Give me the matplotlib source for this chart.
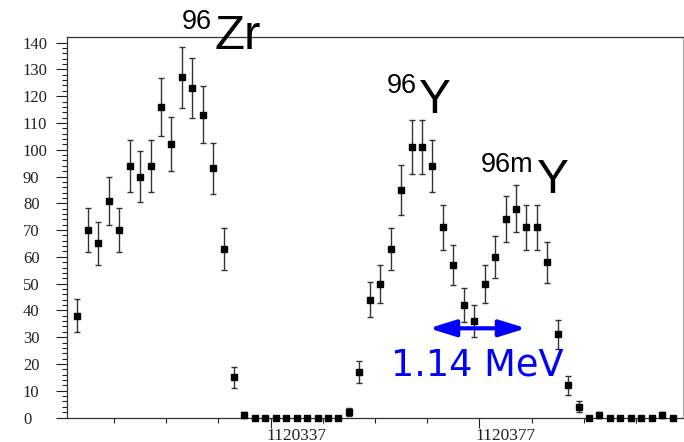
# encoding:utf-8
# 计数谱: 96Zr / 96Y / 96mY 峰

import numpy as np
import matplotlib.pyplot as plt
import matplotlib.transforms as mtransforms

# 每个 bin 的计数 (bin 宽 2, 从 1120299 开始)
bin_start = 1120299
bin_width = 2
counts = np.array([38, 70, 65, 81, 70, 94, 90, 94, 116, 102, 127, 123, 113, 93, 63, 15, 1,
                   0, 0, 0, 0, 0, 0, 0, 0, 0,
                   2, 17,
                   44, 50, 63, 85, 101, 101, 94, 71, 57, 42, 36, 50, 60, 74, 78, 71, 71, 58,
                   31, 12, 4, 0, 1, 0, 0, 0, 0, 0, 1, 0])
x = bin_start + bin_width * (np.arange(len(counts)) + 0.5)
err = np.sqrt(counts)  # 泊松误差

x_labels = [1120337, 1120377]
x_minor = np.arange(1120307, 1120408, 10)
y_major = np.arange(0, 141, 10)
y_minor = np.arange(0, 142, 2)

W, H = 684, 442
plt.rcParams['font.family'] = ['Liberation Serif', 'DejaVu Serif']

fig = plt.figure(figsize=(W / 100, H / 100), dpi=100)
ax = fig.add_axes([67 / W, 1 - 417.5 / H, 616 / W, 380.2 / H])

nz = counts > 0
ax.errorbar(x[nz], counts[nz], yerr=err[nz], fmt='none', ecolor='#333333',
            elinewidth=1, capsize=2.2, capthick=1, clip_on=False)
ax.plot(x, counts, 's', color='black', ms=4, clip_on=False, zorder=3)

ax.set_xlim(1120298, 1120416)
ax.set_ylim(0, 142)

ax.set_xticks(x_labels)
ax.set_xticklabels([str(v) for v in x_labels])
ax.set_xticks(x_minor, minor=True)
ax.set_yticks(y_major)
ax.set_yticks(y_minor, minor=True)

ax.tick_params(axis='x', which='major', direction='out', length=7.2, width=0.8,
               pad=0, labelsize=12.5, colors='#222222')
ax.tick_params(axis='x', which='minor', direction='out', length=3.6, width=0.8,
               colors='#222222')
ax.tick_params(axis='y', which='major', direction='out', length=7.7, width=0.8,
               pad=24, labelsize=12, colors='#222222')
ax.tick_params(axis='y', which='minor', direction='out', length=3.6, width=0.8,
               colors='#222222')

for lab in ax.get_yticklabels():
    lab.set_horizontalalignment('left')
shift = mtransforms.ScaledTranslation(-4.3 / 100, 0, fig.dpi_scale_trans)
for lab in ax.get_xticklabels():
    lab.set_horizontalalignment('left')
    lab.set_transform(lab.get_transform() + shift)

for s in ['left', 'bottom', 'top']:
    ax.spines[s].set_color('#333333')
    ax.spines[s].set_linewidth(0.9)
ax.spines['right'].set_color('#aaaaaa')
ax.spines['right'].set_linewidth(0.8)

# 峰的标注 (像素位置)
labels = [("96", 182, 29.3, 19.5), ("Zr", 214, 49.3, 35.5),
          ("96", 387, 93.3, 19.5), ("Y", 419, 112.7, 34.5),
          ("96m", 480.5, 171.7, 19.5), ("Y", 536.5, 192.7, 34.5)]
for txt, px, py, fs in labels:
    ax.annotate(txt, xy=(px, H - py), xycoords='figure pixels', ha='left',
                va='baseline', fontsize=fs, family='Liberation Sans', color='black')

ax.annotate('', xy=(526, H - 328.3), xytext=(429, H - 328.3), xycoords='figure pixels',
            arrowprops=dict(arrowstyle='<|-|>,head_length=1.6,head_width=0.5',
                            color='blue', lw=3, shrinkA=0, shrinkB=0))
ax.annotate('1.14 MeV', xy=(391, H - 376), xycoords='figure pixels', ha='left',
            va='baseline', fontsize=26.5, family='DejaVu Sans', color='blue')

fig.savefig('out.png', dpi=100)
